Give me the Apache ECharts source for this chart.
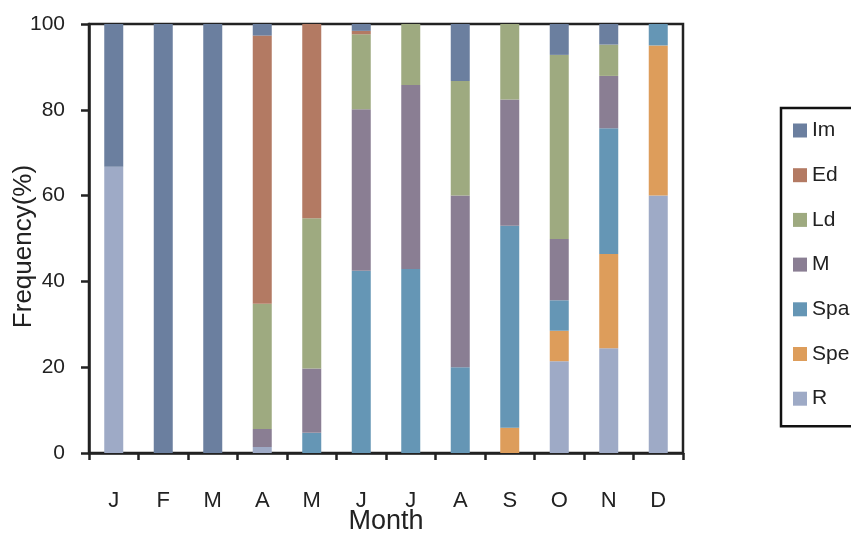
<!DOCTYPE html>
<html>
<head>
<meta charset="utf-8">
<script src="https://cdn.jsdelivr.net/npm/echarts@6/dist/echarts.min.js"></script>
<style>
  html, body { margin: 0; padding: 0; background: #fff; }
  #chart { width: 851px; height: 536px; }
</style>
</head>
<body>
<div id="chart"></div>
<script>
// Monthly frequency (%) of each stage, stacked from R at the bottom to Im at the top
const months = ['J', 'F', 'M', 'A', 'M', 'J', 'J', 'A', 'S', 'O', 'N', 'D'];
const yTicks = [0, 20, 40, 60, 80, 100];

const R   = [66.7, 0, 0, 1.4, 0, 0, 0, 0, 0, 21.4, 24.4, 60];
const Spe = [0, 0, 0, 0, 0, 0, 0, 0, 5.9, 7.1, 22.0, 35];
const Spa = [0, 0, 0, 0, 4.7, 42.5, 42.9, 20, 47.1, 7.1, 29.3, 5];
const M   = [0, 0, 0, 4.2, 15, 37.6, 42.9, 40, 29.4, 14.3, 12.2, 0];
const Ld  = [0, 0, 0, 29.2, 35, 17.5, 14.2, 26.7, 17.6, 42.9, 7.3, 0];
const Ed  = [0, 0, 0, 62.5, 45.3, 0.8, 0, 0, 0, 0, 0, 0];
const Im  = [33.3, 100, 100, 2.7, 0, 1.6, 0, 13.3, 0, 7.2, 4.8, 0];

const stages = [
  { name: 'R',   data: R,   color: '#9eaac6' },
  { name: 'Spe', data: Spe, color: '#dd9d5b' },
  { name: 'Spa', data: Spa, color: '#6596b5' },
  { name: 'M',   data: M,   color: '#8a7e93' },
  { name: 'Ld',  data: Ld,  color: '#9eaa80' },
  { name: 'Ed',  data: Ed,  color: '#b37a63' },
  { name: 'Im',  data: Im,  color: '#6b7f9f' }
];
const legendOrder = ['Im', 'Ed', 'Ld', 'M', 'Spa', 'Spe', 'R'];

const font = '"Liberation Sans", Arial, Helvetica, sans-serif';
const ink = '#222';

const chart = echarts.init(document.getElementById('chart'), null, { renderer: 'canvas' });
chart.setOption({
  animation: false,
  backgroundColor: '#fff',
  textStyle: { fontFamily: font, color: ink },
  grid: {
    left: 89, right: 168, top: 24, bottom: 83,
    containLabel: false,
    outerBoundsMode: 'none',
    show: true, borderColor: ink, borderWidth: 2.5, backgroundColor: 'transparent'
  },
  legend: {
    orient: 'vertical',
    left: 781, top: 108,
    data: legendOrder,
    icon: 'rect',
    itemWidth: 14, itemHeight: 14,
    itemGap: 23.7,
    padding: [12, 60, 17, 12],
    borderColor: '#111', borderWidth: 2.5,
    textStyle: { fontFamily: font, fontSize: 21, color: ink }
  },
  xAxis: {
    type: 'category',
    data: months,
    name: 'Month',
    nameLocation: 'middle',
    nameGap: 55,
    nameMoveOverlap: false,
    nameTextStyle: { fontSize: 27, color: ink, fontFamily: font },
    axisLine: { lineStyle: { color: ink, width: 2.5 } },
    axisTick: { show: true, length: 7, lineStyle: { color: ink, width: 2.5 } },
    axisLabel: { fontSize: 22, color: ink, margin: 37, fontFamily: font },
    splitLine: { show: false }
  },
  yAxis: {
    type: 'value',
    min: yTicks[0], max: yTicks[yTicks.length - 1], interval: 20,
    name: 'Frequency(%)',
    nameLocation: 'middle',
    nameGap: 52,
    nameMoveOverlap: false,
    nameTextStyle: { fontSize: 26, color: ink, fontFamily: font, padding: [0, 16, 0, 0] },
    axisLine: { show: true, lineStyle: { color: ink, width: 2.5 } },
    axisTick: { show: true, length: 8, lineStyle: { color: ink, width: 2.5 } },
    axisLabel: { fontSize: 21, color: ink, margin: 24, fontFamily: font },
    splitLine: { show: false }
  },
  series: stages.map(s => ({
    name: s.name,
    type: 'bar',
    stack: 'total',
    barWidth: 19,
    data: s.data,
    itemStyle: { color: s.color },
    emphasis: { disabled: true }
  }))
});
</script>
</body>
</html>
